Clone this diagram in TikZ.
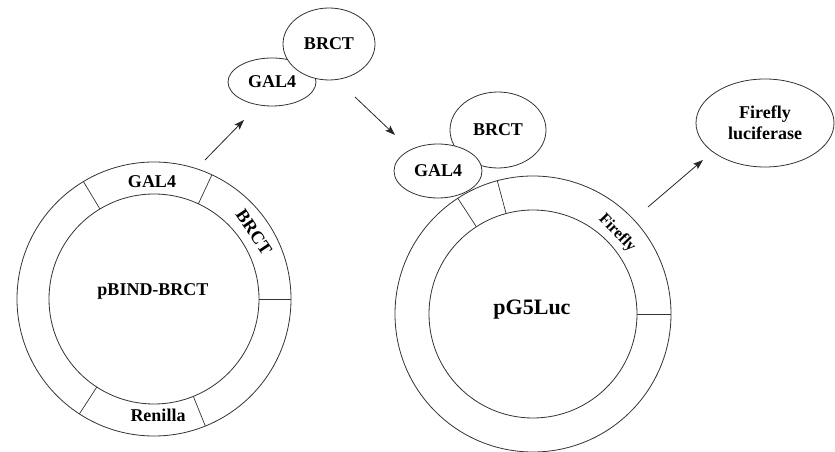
\documentclass[tikz,border=0pt]{standalone}
\usepackage{fontspec}
\setmainfont{Liberation Serif}
\usetikzlibrary{arrows.meta,shapes.geometric,calc}

\tikzset{
  ring/.style={draw=black!80, line width=0.8pt},
  divider/.style={draw=black!80, line width=0.7pt},
  protein/.style={ellipse, draw=black!80, line width=0.8pt, fill=white,
    inner sep=0pt, font=\fontsize{18}{20}\selectfont\bfseries},
  lbl/.style={font=\fontsize{18}{20}\selectfont\bfseries, inner sep=0pt},
  flow/.style={draw=black!85, line width=0.8pt,
    -{Stealth[length=10pt,width=7pt,inset=2pt]}},
}

\begin{document}
\begin{tikzpicture}[x=1pt,y=1pt]
\useasboundingbox (0,0) rectangle (835,452);

% --- pBIND-BRCT plasmid ---
\coordinate (L) at (154,153);
\draw[ring] (L) circle[radius=137];
\draw[ring] (L) circle[radius=105];
\foreach \a in {121,65,0,237,292}
  \draw[divider] ($(L)+(\a:105)$) -- ($(L)+(\a:137)$);
\node[lbl] (lgal) at (152,270) {GAL4};
\node[lbl, rotate=-56] (lbrct) at (254,220) {BRCT};
\node[lbl] (lren) at (158,37) {Renilla};
\node[lbl] (lname) at (153,161) {pBIND-BRCT};

% --- fusion protein expressed from pBIND-BRCT ---
\node[protein, minimum width=88pt, minimum height=48pt] (gal1) at (272,370) {GAL4};
\node[protein, minimum width=92pt, minimum height=72pt] (brct1) at (329,408) {BRCT};

% --- pG5Luc reporter plasmid ---
\coordinate (R) at (533,138);
\draw[ring] (R) circle[radius=138];
\draw[ring] (R) circle[radius=104];
\foreach \a in {123,105,0}
  \draw[divider] ($(R)+(\a:104)$) -- ($(R)+(\a:138)$);
\node[lbl, font=\fontsize{16}{18}\selectfont\bfseries, rotate=-46] (rfire) at (617,219) {Firefly};
\node[lbl, font=\fontsize{22}{24}\selectfont\bfseries] (rname) at (532,142) {pG5Luc};

% --- fusion protein bound to the reporter ---
\node[protein, minimum width=96pt, minimum height=76pt] (brct2) at (498,322) {BRCT};
\node[protein, minimum width=88pt, minimum height=54pt] (gal2) at (438,281) {GAL4};

% --- reporter product ---
\node[protein, minimum width=138pt, minimum height=88pt, align=center,
  font=\fontsize{18}{21}\selectfont\bfseries] (luc) at (765,329) {Firefly\\luciferase};

% --- arrows ---
\coordinate (a1s) at (205,292);
\coordinate (a1e) at (244,332);
\coordinate (a2s) at (355,355);
\coordinate (a2e) at (395,317);
\coordinate (a3s) at (648,245);
\coordinate (a3e) at (703,292);
\draw[flow] (a1s) -- (a1e);
\draw[flow] (a2s) -- (a2e);
\draw[flow] (a3s) -- (a3e);
\end{tikzpicture}
\end{document}
